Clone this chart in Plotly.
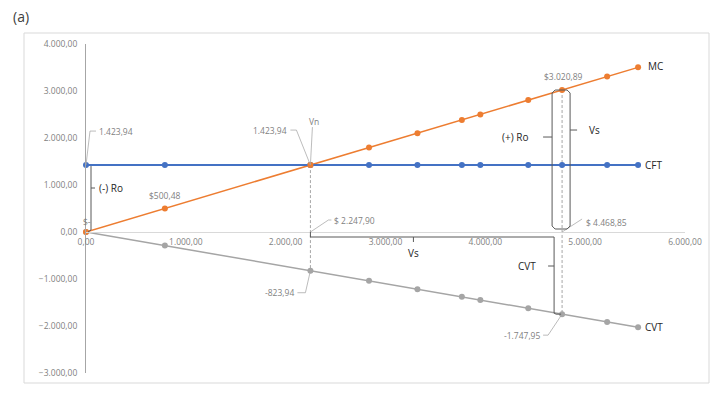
import plotly.graph_objects as go

# ---------------- data ----------------
RT_X = [0, 790.08, 2247.90, 2835, 3320, 3765, 3950, 4430, 4768.84, 5220, 5530]
MC = [0, 500.48, 1423.94, 1795.9, 2103.1, 2385.0, 2502.2, 2806.2, 3020.89, 3306.7, 3503.0]
CFT = [1423.94, 1423.94, 1423.94, 1423.94, 1423.94, 1423.94, 1423.94, 1423.94, 1423.94, 1423.94, 1423.94]
CVT = [0, -289.6, -823.94, -1039.1, -1216.9, -1380.0, -1447.8, -1623.8, -1747.95, -1913.3, -2027.0]
X_TICKS = [0, 1000, 2000, 3000, 4000, 5000, 6000]
Y_TICKS = [-3000, -2000, -1000, 0, 1000, 2000, 3000, 4000]
SERIES_NAMES = ["MC", "CFT", "CVT"]
X_AXIS_NAME = "RT"
TITLE = "(a)"
BE = 2        # break-even index (Vn)
VS = 8        # sales point index
LBL_CFT0 = "1.423,94"
LBL_MC1 = "$500,48"
LBL_ZERO = "$-"
LBL_VN = "Vn"
LBL_BE_Y = "1.423,94"
LBL_BE_X = "$ 2.247,90"
LBL_BE_CVT = "-823,94"
LBL_VS_Y = "$3.020,89"
LBL_VS_X = "$ 4.468,85"
LBL_VS_CVT = "-1.747,95"

# ---------------- layout constants ----------------
OFF = 8                      # page body margin of the html page
W, H = 727 - 2 * OFF, 394 - 2 * OFF
# plot area in page pixels: x 86..685, y 44..373
ML, MT = 86 - OFF, 44 - OFF
MR, MB = W - (685 - OFF), H - (373 - OFF)
XR = [0, 6000]
YR = [-3000, 4000]
PW = W - ML - MR
PH = H - MT - MB
UX = (XR[1] - XR[0]) / PW
UY = (YR[1] - YR[0]) / PH

BLUE = "#4472C4"
ORANGE = "#ED7D31"
GREY = "#A5A5A5"
DARK = "#595959"
LEAD = "#A6A6A6"
TXT = "#7F7F7F"
BLACK = "#262626"
FONT = "Open Sans"


def PX(px):
    return (px - OFF - ML) / PW


def PY(py):
    return (H - MB - (py - OFF)) / PH


def P(x, y, dx=0.0, dy=0.0):
    """data point shifted by pixel offsets (dy positive = down)"""
    return (x + dx * UX, y - dy * UY)


def path(pts):
    s = ""
    for i, (x, y) in enumerate(pts):
        s += ("M" if i == 0 else " L") + f" {x},{y}"
    return s


fig = go.Figure()
for name, ys, col, lw in [("CVT", CVT, GREY, 1.5), ("MC", MC, ORANGE, 1.5), ("CFT", CFT, BLUE, 2.0)]:
    fig.add_trace(go.Scatter(x=RT_X, y=ys, mode="lines+markers", name=name,
                             line=dict(color=col, width=lw),
                             marker=dict(color=col, size=6), cliponaxis=False))
# keep orange on top at break-even
fig.add_trace(go.Scatter(x=[RT_X[BE]], y=[MC[BE]], mode="markers",
                         marker=dict(color=ORANGE, size=6), cliponaxis=False))

shapes = []
# chart border
shapes.append(dict(type="rect", xref="paper", yref="paper",
                   x0=PX(24), x1=PX(709), y0=PY(383), y1=PY(33),
                   line=dict(color="#D9D9D9", width=1), layer="below"))
# dashed verticals
for i in (BE, VS):
    shapes.append(dict(type="line", x0=RT_X[i], x1=RT_X[i], y0=MC[i], y1=CVT[i],
                       line=dict(color=LEAD, width=1, dash="3px,2px"), layer="below"))


def leader(x, y, offs):
    shapes.append(dict(type="path", path=path([P(x, y, a, b) for a, b in offs]),
                       line=dict(color=LEAD, width=0.75)))


def bracket(pts):
    shapes.append(dict(type="path", path=path(pts), line=dict(color=DARK, width=1)))


# leader lines
leader(RT_X[0], CFT[0], [(0, 0), (4, -34), (10, -34)])
leader(RT_X[BE], MC[BE], [(0, 0), (2, -38)])
leader(RT_X[BE], MC[BE], [(0, 0), (-14, -35), (-20, -35)])
leader(RT_X[BE], 0, [(0, 0), (18, -12), (21, -12)])
leader(RT_X[BE], CVT[BE], [(0, 0), (-5, 22), (-13, 22)])
leader(RT_X[VS], 0, [(0, 0), (20, -13)])
leader(RT_X[VS], CVT[VS], [(0, 0), (-14, 21), (-19, 21)])

# (-) Ro bracket
bracket([P(RT_X[0], CFT[0], 5, 1), P(RT_X[0], 0, 5, -2), P(RT_X[0], 0, 2, 0)])
bracket([P(RT_X[0], 0, 5, -44), P(RT_X[0], 0, 9, -44)])
# Vs bracket below axis
bracket([P(RT_X[BE], 0, 0, 0), P(RT_X[BE], 0, 0, 5), P(RT_X[VS], 0, -8, 5)])
bracket([P(RT_X[BE], 0, 103, 5), P(RT_X[BE], 0, 103, 10)])
# CVT bracket
bracket([P(RT_X[VS], 0, -8, 5), P(RT_X[VS], CVT[VS], -8, -1), P(RT_X[VS], CVT[VS], -6, 0), P(RT_X[VS], CVT[VS], -1, 0)])
bracket([P(RT_X[VS], 0, -8, 34), P(RT_X[VS], 0, -14, 34)])
# (+) Ro / Vs rounded box
lx, rx, r = -10, 8, 3
box = [P(RT_X[VS], MC[VS], lx, r), P(RT_X[VS], MC[VS], lx + r, 0), P(RT_X[VS], MC[VS], rx - r, 0),
       P(RT_X[VS], MC[VS], rx, r), P(RT_X[VS], 0, rx, -3 - r), P(RT_X[VS], 0, rx - r, -3),
       P(RT_X[VS], 0, lx + r, -3), P(RT_X[VS], 0, lx, -3 - r), P(RT_X[VS], MC[VS], lx, r)]
bracket(box)
bracket([P(RT_X[VS], MC[VS], lx, 47), P(RT_X[VS], MC[VS], lx - 9, 47)])
bracket([P(RT_X[VS], MC[VS], rx, 40), P(RT_X[VS], MC[VS], rx + 7, 40)])

ann = []


def label(x, y, dx, dy, text, anchor="center", color=TXT, size=8.5):
    px, py = P(x, y, dx, dy)
    ann.append(dict(x=px, y=py, text=text, showarrow=False, xanchor=anchor, yanchor="middle",
                    font=dict(family=FONT, size=size, color=color)))


label(RT_X[0], CFT[0], 11, -34, LBL_CFT0, "left")
label(RT_X[1], MC[1], 0, -13, LBL_MC1)
label(RT_X[0], MC[0], 1, -11, LBL_ZERO)
label(RT_X[BE], MC[BE], 4, -44, LBL_VN)
label(RT_X[BE], MC[BE], -21, -35, LBL_BE_Y, "right")
label(RT_X[BE], 0, 22, -12, LBL_BE_X, "left")
label(RT_X[BE], CVT[BE], -14, 22, LBL_BE_CVT, "right")
label(RT_X[VS], MC[VS], 1, -14, LBL_VS_Y)
label(RT_X[VS], 0, 22, -10, LBL_VS_X, "left")
label(RT_X[VS], CVT[VS], -20, 21, LBL_VS_CVT, "right")
# bracket captions
label(RT_X[0], 0, 11, -44, "(-) Ro", "left", BLACK, 10)
label(RT_X[BE], 0, 103, 21, "Vs", "center", BLACK, 10)
label(RT_X[VS], 0, -24, 34, "CVT", "right", BLACK, 10)
label(RT_X[VS], MC[VS], lx - 22, 47, "(+) Ro", "right", BLACK, 10)
label(RT_X[VS], MC[VS], rx + 17, 40, "Vs", "left", BLACK, 10)
# series names
label(RT_X[-1], MC[-1], 8, -1, SERIES_NAMES[0], "left", BLACK, 10)
label(RT_X[-1], CFT[-1], 5, 0, SERIES_NAMES[1], "left", BLACK, 10)
label(RT_X[-1], CVT[-1], 5, 0, SERIES_NAMES[2], "left", BLACK, 10)
label(XR[1], 0, 2, -2, X_AXIS_NAME, "left", BLACK, 10)
# panel title
ann.append(dict(xref="paper", yref="paper", x=PX(11), y=PY(16), text=TITLE, showarrow=False,
                xanchor="left", yanchor="middle",
                font=dict(family=FONT, size=14, color="#404040")))

fig.update_layout(
    width=W, height=H, margin=dict(l=ML, r=MR, t=MT, b=MB, autoexpand=False),
    paper_bgcolor="white", plot_bgcolor="white", showlegend=False,
    separators=",.",
    font=dict(family=FONT, size=8.5, color=TXT),
    shapes=shapes, annotations=ann,
    xaxis=dict(range=XR, tickvals=X_TICKS, tickformat=",.2f", showgrid=False, zeroline=False,
               showline=True, linecolor="#D9D9D9", linewidth=1, anchor="free",
               position=(0 - YR[0]) / (YR[1] - YR[0]), ticks="", ticklabelstandoff=2,
               tickfont=dict(family=FONT, size=8.5, color=TXT)),
    yaxis=dict(range=YR, tickvals=Y_TICKS, tickformat=",.2f", showgrid=False, zeroline=False,
               showline=True, linecolor="#A6A6A6", linewidth=1, ticks="", ticklabelstandoff=6,
               tickfont=dict(family=FONT, size=8.5, color=TXT)),
)
fig.write_html("out.html")
